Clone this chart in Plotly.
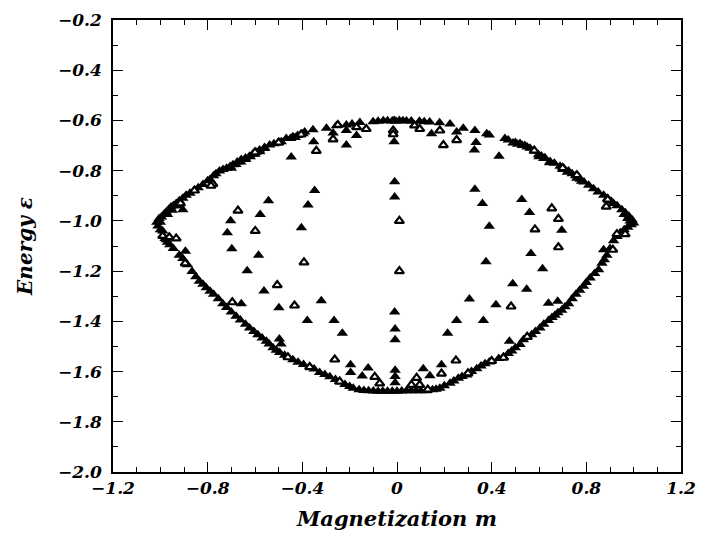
import plotly.graph_objects as go

# ---- filled triangles (magnetization m, energy e) ----
filled_m = [
    # upper envelope, left half
    -1.015, -1.005, -0.995, -0.985, -0.975, -0.965, -0.955, -0.945, -0.933, -0.92,
    -0.905, -0.891, -0.875, -0.856, -0.84, -0.82, -0.80, -0.79, -0.775, -0.765,
    -0.750, -0.735, -0.72, -0.705, -0.693, -0.675, -0.658, -0.64, -0.623, -0.61,
    -0.595, -0.581, -0.56, -0.538, -0.52, -0.50, -0.489, -0.468, -0.44, -0.42,
    -0.397, -0.39, -0.355, -0.298, -0.256, -0.214, -0.19, -0.157, -0.101, -0.08,
    -0.058, -0.04, -0.02, -0.005,
    # upper envelope, right half
    0.01, 0.025, 0.04, 0.06, 0.095, 0.115, 0.138, 0.18, 0.224, 0.28,
    0.329, 0.379, 0.39, 0.456, 0.47, 0.50, 0.52, 0.54, 0.562, 0.58,
    0.598, 0.61, 0.625, 0.647, 0.665, 0.689, 0.705, 0.725, 0.74, 0.755,
    0.774, 0.79, 0.81, 0.830, 0.85, 0.873, 0.89, 0.905, 0.915, 0.93,
    0.95, 0.965, 0.98, 0.993, 1.0,
    # lower envelope, left half
    -1.01, -1.0, -0.98, -0.97, -0.96, -0.945, -0.92, -0.905, -0.885, -0.866,
    -0.85, -0.835, -0.82, -0.806, -0.79, -0.775, -0.755, -0.736, -0.72, -0.700,
    -0.68, -0.662, -0.64, -0.623, -0.605, -0.588, -0.57, -0.552, -0.54, -0.524,
    -0.51, -0.496, -0.475, -0.44, -0.418, -0.395, -0.35, -0.327, -0.305, -0.284,
    -0.26, -0.242, -0.22, -0.2, -0.185, -0.16, -0.14, -0.12, -0.1, -0.08,
    -0.06, -0.04, -0.02, 0.0,
    # lower envelope, right half
    0.02, 0.04, 0.06, 0.08, 0.1, 0.125, 0.15, 0.165, 0.181, 0.2,
    0.224, 0.24, 0.259, 0.275, 0.294, 0.315, 0.337, 0.355, 0.372, 0.39,
    0.43, 0.450, 0.47, 0.485, 0.50, 0.520, 0.534, 0.55, 0.569, 0.585,
    0.604, 0.62, 0.640, 0.655, 0.668, 0.68, 0.696, 0.71, 0.725, 0.74,
    0.756, 0.772, 0.788, 0.80, 0.816, 0.835, 0.852, 0.866, 0.876, 0.887,
    0.9, 0.915, 0.93, 0.943, 0.96, 0.975, 0.99,
    # extra points thickening the dense parts of the envelope
    -1.0, -0.97, -0.95, -0.93, -0.70, -0.68, -0.66, -0.64, -0.62, -0.45,
    -0.43, 0.49, 0.51, 0.53, 0.55, 0.70, 0.72, 0.76, 0.78, 0.96,
    0.975, 0.985, -0.99, -0.975, -0.60, -0.58, -0.56, 0.60, 0.62, 0.645,
    # interior, left
    -0.905, -0.352, -0.447, -0.214, -0.171, -0.27, -0.214, -0.348, -0.543, -0.376,
    -0.578, -0.703, -0.717, -0.404, -0.698, -0.585, -0.633, -0.562, -0.320, -0.499,
    -0.658, -0.379, -0.266, -0.231, -0.196, -0.196, -0.122, -0.147, -0.894, -0.497,
    -0.49,
    # centre column
    -0.012, -0.012, -0.010, -0.010, -0.010, -0.008, -0.008, -0.008, -0.008, -0.008,
    # interior, right
    0.146, 0.334, 0.327, 0.431, 0.329, 0.361, 0.390, 0.376, 0.527, 0.560,
    0.566, 0.696, 0.615, 0.489, 0.548, 0.306, 0.418, 0.252, 0.365, 0.214,
    0.188, 0.139, 0.111, 0.640, 0.679, 0.475, 0.873, 0.252,
]
filled_e = [
    -1.005, -0.99, -0.985, -0.975, -0.965, -0.955, -0.945, -0.94, -0.931, -0.92,
    -0.91, -0.898, -0.89, -0.879, -0.868, -0.855, -0.84, -0.835, -0.82, -0.812,
    -0.801, -0.795, -0.79, -0.783, -0.776, -0.765, -0.756, -0.75, -0.743, -0.735,
    -0.727, -0.718, -0.708, -0.698, -0.693, -0.688, -0.685, -0.672, -0.665, -0.66,
    -0.653, -0.646, -0.637, -0.631, -0.621, -0.618, -0.614, -0.608, -0.605, -0.603,
    -0.601, -0.601, -0.602, -0.603,
    -0.600, -0.601, -0.602, -0.602, -0.603, -0.605, -0.606, -0.609, -0.614, -0.631,
    -0.640, -0.653, -0.658, -0.672, -0.678, -0.688, -0.692, -0.700, -0.711, -0.722,
    -0.737, -0.742, -0.749, -0.763, -0.770, -0.782, -0.790, -0.801, -0.812, -0.820,
    -0.834, -0.845, -0.858, -0.872, -0.885, -0.898, -0.910, -0.922, -0.931, -0.940,
    -0.956, -0.968, -0.982, -0.995, -1.008,
    -1.02, -1.035, -1.07, -1.085, -1.095, -1.11, -1.137, -1.150, -1.175, -1.202,
    -1.222, -1.240, -1.252, -1.266, -1.28, -1.292, -1.31, -1.330, -1.345, -1.363,
    -1.38, -1.395, -1.412, -1.427, -1.44, -1.453, -1.466, -1.479, -1.49, -1.505,
    -1.515, -1.524, -1.535, -1.553, -1.563, -1.572, -1.59, -1.604, -1.612, -1.621,
    -1.632, -1.640, -1.652, -1.66, -1.666, -1.672, -1.675, -1.676, -1.677, -1.678,
    -1.678, -1.678, -1.678, -1.678,
    -1.677, -1.676, -1.676, -1.676, -1.676, -1.676, -1.672, -1.670, -1.666, -1.657,
    -1.647, -1.638, -1.627, -1.620, -1.614, -1.600, -1.589, -1.578, -1.569, -1.562,
    -1.548, -1.541, -1.528, -1.518, -1.505, -1.492, -1.473, -1.462, -1.453, -1.440,
    -1.427, -1.412, -1.397, -1.385, -1.376, -1.366, -1.356, -1.342, -1.330, -1.310,
    -1.292, -1.276, -1.260, -1.245, -1.227, -1.210, -1.195, -1.169, -1.155, -1.137,
    -1.110, -1.079, -1.062, -1.047, -1.035, -1.025, -1.015,
    -1.005, -0.975, -0.958, -0.940, -0.790, -0.775, -0.765, -0.756, -0.745, -0.672,
    -0.668, -0.690, -0.695, -0.700, -0.706, -0.795, -0.806, -0.830, -0.842, -0.975,
    -0.990, -1.000, -1.04, -1.075, -0.735, -0.725, -0.712, -0.745, -0.752, -0.768,
    -0.956, -0.685, -0.746, -0.698, -0.660, -0.650, -0.640, -0.879, -0.920, -0.937,
    -0.975, -0.999, -1.047, -1.027, -1.111, -1.137, -1.199, -1.279, -1.318, -1.346,
    -1.330, -1.397, -1.397, -1.447, -1.573, -1.604, -1.586, -1.618, -1.121, -1.470,
    -1.490,
    -0.600, -0.685, -0.844, -0.905, -1.363, -1.431, -1.473, -1.595, -1.620, -1.645,
    -0.653, -0.688, -0.718, -0.743, -0.874, -0.931, -1.021, -1.163, -0.915, -0.967,
    -1.130, -1.037, -1.191, -1.250, -1.272, -1.311, -1.334, -1.397, -1.397, -1.447,
    -1.573, -1.617, -1.589, -1.328, -1.320, -1.479, -1.115, -0.646,
]

# ---- open triangles ----
open_m = [
    -0.341, -0.270, -0.016, -0.016, -0.599, -0.672, -0.393, -0.506, -0.433, -0.263,
    -0.094, -0.073, -0.99, -0.962, -0.933, -0.778, -0.856, -0.915, -0.895, -0.696,
    -0.461, -0.369, -0.242, -0.171, -0.13, -0.25, -0.786, -0.60, -0.405, -0.50,
    0.196, 0.252, 0.583, 0.654, 0.682, 0.682, 0.884, 0.929, 0.964, 0.912,
    0.482, 0.249, 0.188, 0.083, 0.061, 0.096, 0.010, 0.010, 0.074, 0.096,
    0.181, 0.45, 0.89, 0.58, 0.40, 0.55, 0.30, 0.70, 0.76, 0.13,
]
open_e = [
    -0.721, -0.675, -0.640, -0.655, -1.040, -0.959, -1.165, -1.256, -1.337, -1.552,
    -1.621, -1.647, -1.060, -1.065, -1.070, -0.853, -0.879, -0.930, -1.169, -1.324,
    -1.543, -1.582, -1.640, -0.627, -0.634, -0.618, -0.860, -0.727, -0.656, -0.688,
    -0.698, -0.678, -1.034, -0.950, -0.992, -1.105, -0.943, -1.053, -1.053, -1.115,
    -1.341, -1.556, -1.608, -1.625, -1.653, -1.653, -1.200, -1.000, -0.620, -0.634,
    -0.640, -1.545, -0.915, -0.720, -1.558, -1.462, -1.607, -0.790, -0.818, -1.672,
]

x_tickvals = [-1.2, -0.8, -0.4, 0.0, 0.4, 0.8, 1.2]
x_ticktext = ["\u22121.2", "\u22120.8", "\u22120.4", "0", "0.4", "0.8", "1.2"]
y_tickvals = [-2.0, -1.8, -1.6, -1.4, -1.2, -1.0, -0.8, -0.6, -0.4, -0.2]
y_ticktext = ["\u22122.0", "\u22121.8", "\u22121.6", "\u22121.4", "\u22121.2",
              "\u22121.0", "\u22120.8", "\u22120.6", "\u22120.4", "\u22120.2"]

font_family = "DejaVu Serif"

fig = go.Figure()
fig.add_trace(go.Scatter(
    x=filled_m, y=filled_e, mode="markers",
    marker=dict(symbol="triangle-up", size=10, color="black", line=dict(width=0)),
    showlegend=False, hoverinfo="skip",
))
fig.add_trace(go.Scatter(
    x=open_m, y=open_e, mode="markers",
    marker=dict(symbol="triangle-up", size=8, color="white",
                line=dict(width=2.2, color="black")),
    showlegend=False, hoverinfo="skip",
))

axis_common = dict(
    showline=True, linecolor="black", linewidth=1.6, mirror="ticks",
    ticks="inside", ticklen=10, tickwidth=1.4, tickcolor="black",
    showgrid=False, zeroline=False,
    tickfont=dict(family=font_family, size=17, color="black", weight="bold", style="italic"),
)

fig.update_xaxes(
    range=[-1.2, 1.2], tickvals=x_tickvals, ticktext=x_ticktext,
    minor=dict(dtick=0.1, tick0=0, ticks="inside", ticklen=5, tickwidth=1.2, tickcolor="black"),
    title=dict(text="Magnetization m", standoff=14,
               font=dict(family=font_family, size=21, color="black", weight="bold", style="italic")),
    ticklabelstandoff=0,
    **axis_common,
)
fig.update_yaxes(
    range=[-2.0, -0.2], tickvals=y_tickvals, ticktext=y_ticktext,
    minor=dict(dtick=0.1, tick0=0, ticks="inside", ticklen=5, tickwidth=1.2, tickcolor="black"),
    title=dict(text="Energy \u03b5", standoff=20,
               font=dict(family=font_family, size=20, color="black", weight="bold", style="italic")),
    ticklabelstandoff=6,
    **axis_common,
)

fig.update_layout(
    width=706, height=545,
    margin=dict(l=113, r=20, t=10, b=73),
    paper_bgcolor="white", plot_bgcolor="white",
)

fig.write_html("out.html")
